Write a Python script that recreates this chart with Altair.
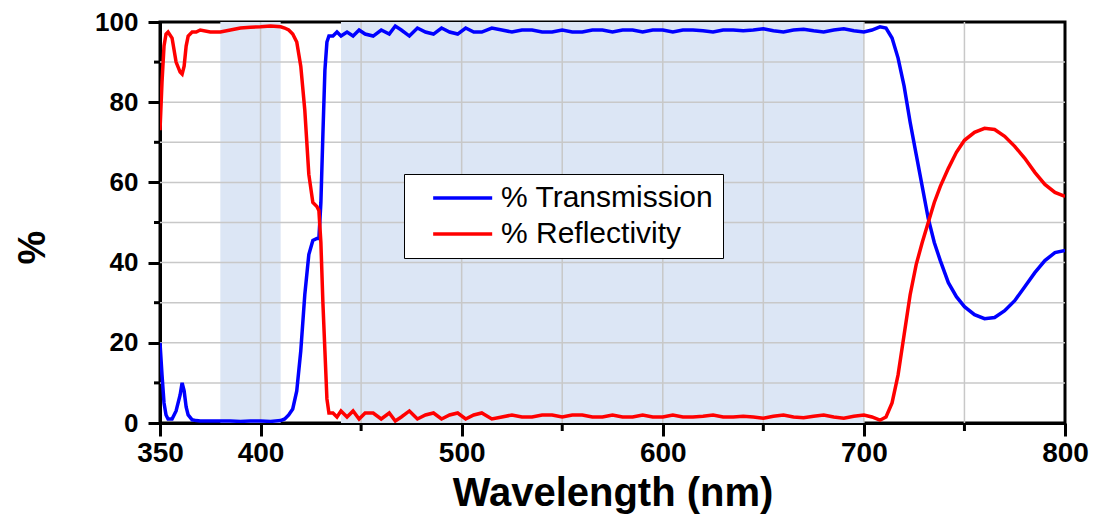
import altair as alt
import pandas as pd

wavelength = [350, 351, 352, 353, 354, 356, 358, 360, 361, 362, 363, 364, 366, 368, 370, 375, 380, 385, 390, 395,
              400, 405, 410, 412, 414, 416, 418, 420, 422, 424, 426, 428, 429, 430, 431, 432, 433, 434, 436, 438,
              440, 443, 446, 449, 452, 456, 460, 464, 467, 470, 474, 478, 482, 486, 490, 494, 498, 502, 506, 510,
              515, 520, 525, 530, 535, 540, 545, 550, 555, 560, 565, 570, 575, 580, 585, 590, 595, 600, 605, 610,
              615, 620, 625, 630, 635, 640, 645, 650, 655, 660, 665, 670, 675, 680, 685, 690, 695, 700, 704, 708,
              711, 714, 717, 720, 723, 726, 729, 732, 735, 738, 742, 746, 750, 755, 760, 765, 770, 775, 780, 785,
              790, 795, 800]

transmission = [20, 12, 5, 2, 1, 1, 3, 7, 10, 8, 4, 2, 0.8, 0.6, 0.5, 0.5, 0.5, 0.5, 0.4, 0.5,
                0.5, 0.4, 0.6, 1, 2, 3.5, 8, 18, 32, 42, 45.5, 46, 46, 55, 72, 88, 95, 96.5, 96.5, 97.5,
                96.5, 97.5, 96.5, 98, 97, 96.5, 98, 97, 99, 98, 96.5, 98.5, 97.5, 97, 98.5, 97.5, 97, 98.5, 97.5, 97.5,
                98.5, 98, 97.5, 98, 98, 97.5, 97.5, 98, 97.5, 97.5, 98, 98, 97.5, 98, 98, 97.5, 98, 98, 97.5, 98,
                98, 97.8, 97.5, 98, 98, 97.8, 98, 98.3, 97.8, 97.5, 98, 98.2, 97.8, 97.5, 98, 98.3, 97.8, 97.5, 98, 98.8,
                98.5, 96, 91, 84, 75, 67, 59, 51, 45, 40.5, 35, 31.5, 29, 27, 26, 26.3, 28, 30.5, 34, 37.5,
                40.5, 42.5, 43]

reflectivity = [73, 85, 94, 97, 97.5, 96, 90, 87.5, 87, 89, 94, 96.5, 97.5, 97.5, 98, 97.5, 97.5, 98, 98.5, 98.7,
                98.8, 99, 98.8, 98.5, 98, 97, 95, 89, 78, 62, 55, 54, 53, 45, 30, 18, 6, 2.5, 2.5, 1.5,
                3, 1.5, 3, 1, 2.5, 2.5, 1, 2.5, 0.5, 1.5, 3, 1, 2, 2.5, 1, 2, 2.5, 1, 2, 2.5,
                1, 1.5, 2, 1.5, 1.5, 2, 2, 1.5, 2, 2, 1.5, 1.5, 2, 1.5, 1.5, 2, 1.5, 1.5, 2, 1.5,
                1.5, 1.7, 2, 1.5, 1.5, 1.7, 1.5, 1.2, 1.7, 2, 1.5, 1.3, 1.7, 2, 1.5, 1.2, 1.7, 2, 1.5, 0.7,
                1.5, 5, 12, 22, 32, 39.5, 45, 50, 55, 59, 63.5, 67.5, 70.5, 72.5, 73.5, 73.2, 71.5, 69, 66, 62.5,
                59.5, 57.5, 56.5]

series_names = ["% Transmission", "% Reflectivity"]
series_colors = ["#0000ff", "#ff0000"]

band_start = [380, 440]
band_end = [410, 700]

x_major = [350, 400, 500, 600, 700, 800]
x_minor = [450, 550, 650, 750]
y_major = [0, 20, 40, 60, 80, 100]
y_minor = [10, 30, 50, 70, 90]
x_grid = [400, 450, 500, 550, 600, 650, 700, 750]
y_grid = [10, 20, 30, 40, 50, 60, 70, 80, 90]

PLOT_W, PLOT_H = 905, 401

df = pd.concat([
    pd.DataFrame({"wavelength": wavelength, "value": transmission, "series": series_names[0]}),
    pd.DataFrame({"wavelength": wavelength, "value": reflectivity, "series": series_names[1]}),
])
bands_df = pd.DataFrame({"start": band_start, "end": band_end})

FONT = "Liberation Sans"
xscale = alt.Scale(domain=[350, 800], nice=False, zero=False)
yscale = alt.Scale(domain=[0, 100], nice=False)

xaxis = alt.Axis(
    values=x_major,
    title="Wavelength (nm)",
    tickSize=13,
    labelFontSize=28, labelPadding=3, labelFlush=False,
    titleFontSize=40, titlePadding=6,
)
yaxis = alt.Axis(
    values=y_major,
    title="%",
    tickSize=12,
    labelFontSize=26, labelPadding=10, labelFlush=False,
    titleFontSize=38, titleX=-108, titleY=225,
)

bands = alt.Chart(bands_df).mark_rect(color="#dce6f5").encode(
    x=alt.X("start:Q", scale=xscale, axis=xaxis),
    x2="end:Q",
)

vgrid = alt.Chart(pd.DataFrame({"g": x_grid})).mark_rule(color="#c8c8c8", strokeWidth=1.5).encode(
    x=alt.X("g:Q", scale=xscale, axis=xaxis)
)
hgrid = alt.Chart(pd.DataFrame({"g": y_grid})).mark_rule(color="#c8c8c8", strokeWidth=1.5).encode(
    y=alt.Y("g:Q", scale=yscale, axis=yaxis)
)

xminor = alt.Chart(pd.DataFrame({"m": x_minor})).mark_rule(color="black", strokeWidth=3, clip=False).encode(
    x=alt.X("m:Q", scale=xscale, axis=xaxis),
    y=alt.value(PLOT_H),
    y2=alt.value(PLOT_H + 8),
)
yminor = alt.Chart(pd.DataFrame({"m": y_minor})).mark_rule(color="black", strokeWidth=3, clip=False).encode(
    y=alt.Y("m:Q", scale=yscale, axis=yaxis),
    x=alt.value(0),
    x2=alt.value(-6),
)

lines = alt.Chart(df).mark_line(strokeWidth=3.5, clip=True).encode(
    x=alt.X("wavelength:Q", scale=xscale, axis=xaxis),
    y=alt.Y("value:Q", scale=yscale, axis=yaxis),
    color=alt.Color("series:N", scale=alt.Scale(domain=series_names, range=series_colors),
                    legend=alt.Legend(
                        title=None, orient="none", legendX=244, legendY=152, direction="vertical",
                        symbolType="M-1,0H5", symbolSize=387, symbolStrokeWidth=3.5,
                        labelFont=FONT, labelFontSize=30, labelOffset=43, labelLimit=500,
                        padding=9, symbolOffset=15, rowPadding=6,
                        strokeColor="black", fillColor="white",
                        labelExpr="datum.label + '         '",
                    )),
)

chart = alt.layer(bands, vgrid, hgrid, xminor, yminor, lines).properties(
    width=PLOT_W, height=PLOT_H,
    autosize=alt.AutoSizeParams(type="none"),
    padding={"left": 152, "top": 14, "right": 28, "bottom": 95},
).configure_view(
    stroke="black", strokeWidth=3
).configure_axis(
    labelFont=FONT, labelFontWeight="bold", labelColor="black",
    titleFont=FONT, titleFontWeight="bold", titleColor="black",
    domainColor="black", domainWidth=3, tickColor="black", tickWidth=3,
    grid=False,
)

chart.save("out.html", embed_options={"renderer": "svg", "actions": False})
